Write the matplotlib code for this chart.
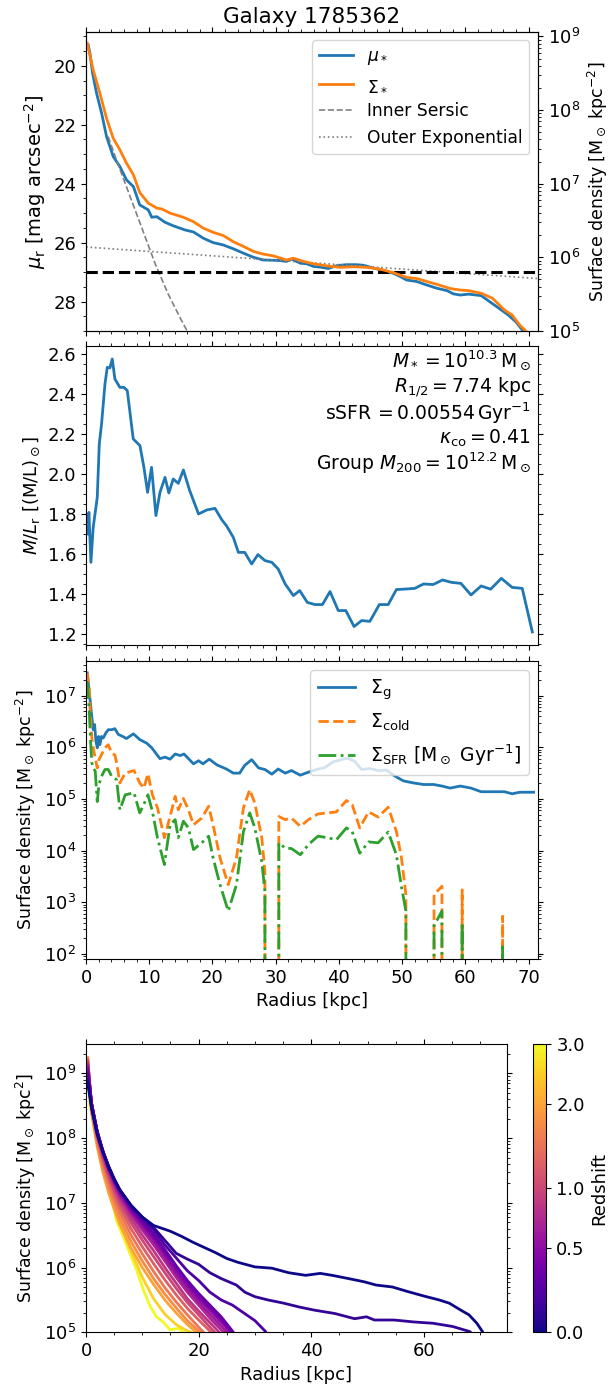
import numpy as np
import matplotlib
matplotlib.use("Agg")
import matplotlib.pyplot as plt
from matplotlib.ticker import AutoMinorLocator
from matplotlib.colors import FuncNorm
from matplotlib.cm import ScalarMappable

plt.rcParams['font.size'] = 13
plt.rcParams['legend.fontsize'] = 12

# ---- panel 1: surface brightness / stellar surface density ----
r_mu = [0.35, 0.62, 1.04, 1.67, 2.46, 3.25, 4.31, 5.36, 6.4, 7.5,
        8.5, 9.85, 10.4, 11.2, 12.5, 13.8, 15.65, 17.0, 18.55, 20.1,
        21.7, 23.3, 24.9, 26.5, 28.0, 29.6, 30.7, 31.7, 32.5, 33.9,
        34.9, 36.0, 37.3, 38.3, 39.7, 41.2, 42.8, 43.9, 45.4, 47.0,
        48.6, 49.7, 50.7, 52.3, 53.9, 55.5, 57.1, 58.1, 59.2, 60.5,
        62.5, 65.0, 66.8, 68.0, 69.5, 70.8]
mu_star = [19.29, 19.57, 20.25, 20.93, 21.6, 22.4, 23.08, 23.42, 23.87, 24.1,
           24.72, 24.89, 25.14, 25.12, 25.31, 25.43, 25.57, 25.64, 25.85, 26.0,
           26.08, 26.21, 26.36, 26.5, 26.59, 26.6, 26.61, 26.64, 26.56, 26.7,
           26.72, 26.81, 26.84, 26.88, 26.78, 26.75, 26.75, 26.77, 26.86, 26.95,
           27.04, 27.15, 27.27, 27.32, 27.44, 27.55, 27.63, 27.74, 27.78, 27.75,
           27.8, 28.18, 28.46, 28.69, 29.1, 29.3]

r_sig = [0.2, 1.14, 2.2, 3.25, 4.31, 5.36, 6.4, 7.5, 8.5, 9.85,
         11.2, 12.0, 13.3, 15.4, 17.0, 18.55, 20.1, 21.7, 23.3, 24.9,
         26.5, 28.0, 29.6, 31.7, 32.8, 34.4, 36.0, 38.1, 40.2, 42.3,
         44.4, 46.5, 48.6, 50.7, 52.3, 53.9, 56.0, 57.6, 59.2, 60.5,
         62.5, 64.3, 66.2, 67.4, 68.6, 70.5]
sig_star_log = [8.908, 8.544, 8.228, 7.888, 7.616, 7.46, 7.28, 7.12, 6.88, 6.736,
                6.668, 6.656, 6.6, 6.544, 6.484, 6.396, 6.34, 6.296, 6.212, 6.148,
                6.08, 6.044, 6.02, 5.964, 5.988, 5.944, 5.912, 5.884, 5.864, 5.872,
                5.864, 5.84, 5.792, 5.728, 5.712, 5.672, 5.62, 5.576, 5.556, 5.548,
                5.512, 5.444, 5.284, 5.216, 5.08, 4.92]

r_sersic = [3.5, 5.0, 7.0, 9.0, 11.0, 13.0, 15.0, 17.0]
mu_sersic = [22.4, 23.3, 24.45, 25.6, 26.75, 27.75, 28.6, 29.4]
r_exp = [0.0, 71.5]
mu_exp = [26.15, 27.22]
mu_limit = 27.0

# ---- panel 2: mass-to-light ratio ----
r_ml = [0.2, 0.46, 0.78, 1.14, 1.78, 2.1, 2.46, 3.0, 3.36, 3.78,
        4.15, 4.57, 5.36, 6.0, 6.53, 7.47, 8.53, 9.16, 9.74, 10.37,
        11.06, 11.7, 12.5, 13.1, 13.8, 14.6, 15.4, 16.4, 17.8, 19.1,
        20.4, 21.5, 22.2, 23.3, 24.1, 25.1, 26.2, 27.2, 28.3, 29.4,
        30.4, 31.5, 32.8, 33.8, 35.0, 36.2, 37.4, 38.6, 39.9, 41.1,
        42.4, 43.6, 44.9, 46.4, 47.8, 49.1, 50.7, 52.0, 53.4, 54.9,
        56.4, 57.8, 59.3, 60.9, 62.5, 64.0, 65.7, 67.4, 69.0, 70.6]
ml = [1.70, 1.808, 1.558, 1.733, 1.883, 2.15, 2.25, 2.45, 2.533, 2.53,
      2.575, 2.475, 2.433, 2.433, 2.417, 2.175, 2.142, 2.033, 1.908, 2.033,
      1.792, 1.908, 1.983, 1.905, 1.975, 1.953, 2.02, 1.917, 1.80, 1.82,
      1.828, 1.77, 1.742, 1.683, 1.608, 1.608, 1.55, 1.597, 1.567, 1.558,
      1.525, 1.45, 1.392, 1.417, 1.358, 1.347, 1.347, 1.412, 1.317, 1.317,
      1.237, 1.267, 1.263, 1.347, 1.347, 1.422, 1.425, 1.428, 1.45, 1.447,
      1.47, 1.458, 1.453, 1.395, 1.44, 1.424, 1.478, 1.433, 1.428, 1.21]

info_lines = [r'$M_* = 10^{10.3}\,\mathrm{M}_\odot$',
              r'$R_{1/2} = 7.74$ kpc',
              r'sSFR$\,= 0.00554\,\mathrm{Gyr}^{-1}$',
              r'$\kappa_\mathrm{co} = 0.41$',
              r'Group $M_{200} = 10^{12.2}\,\mathrm{M}_\odot$']

# ---- panel 3: gas / cold gas / SFR surface densities (log10) ----
r_g = [0.2, 0.5, 0.72, 0.93, 1.14, 1.36, 1.57, 1.78, 2.0, 2.2,
       2.46, 2.73, 3.15, 3.52, 4.05, 4.57, 5.1, 5.8, 6.4, 7.5,
       8.5, 9.6, 10.4, 11.7, 12.5, 13.3, 14.1, 14.9, 15.5, 17.0,
       17.8, 18.5, 19.5, 20.7, 22.2, 23.3, 24.3, 25.1, 26.2, 27.3,
       28.3, 29.4, 30.4, 31.5, 32.5, 33.9, 35.2, 36.5, 37.8, 39.1,
       40.4, 41.3, 42.5, 43.6, 44.9, 46.2, 47.5, 48.9, 50.2, 51.8,
       53.4, 55.0, 56.3, 57.6, 59.2, 60.9, 62.5, 64.3, 66.2, 67.4,
       68.6, 70.8]
sig_g_log = [7.44, 7.08, 6.83, 6.57, 6.34, 6.44, 6.12, 5.99, 6.21, 6.05,
             6.21, 6.18, 6.28, 6.34, 6.34, 6.36, 6.25, 6.21, 6.17, 6.26,
             6.15, 6.08, 5.99, 5.78, 5.81, 5.77, 5.87, 5.84, 5.87, 5.68,
             5.74, 5.68, 5.77, 5.66, 5.58, 5.5, 5.5, 5.65, 5.76, 5.6,
             5.57, 5.48, 5.58, 5.5, 5.55, 5.46, 5.52, 5.57, 5.61, 5.72,
             5.76, 5.79, 5.73, 5.57, 5.59, 5.55, 5.56, 5.44, 5.35, 5.31,
             5.28, 5.28, 5.25, 5.21, 5.25, 5.21, 5.14, 5.14, 5.14, 5.1,
             5.13, 5.13]

# None marks radii with no cold gas / no star formation
r_c = [0.2, 0.5, 0.72, 0.93, 1.14, 1.46, 1.78, 2.05, 2.46, 3.0,
       3.52, 4.05, 4.57, 4.84, 5.36, 6.2, 7.6, 8.5, 9.16, 9.8,
       10.5, 11.3, 12.4, 13.3, 14.1, 14.6, 15.4, 16.2, 17.0, 18.3,
       19.4, 20.1, 21.2, 22.5, 23.8, 24.9, 25.9, 26.7, 27.8, 28.3,
       28.5, 30.3, 30.5, 31.5, 32.5, 33.9, 35.2, 36.7, 38.2, 39.6,
       41.2, 42.1, 43.3, 44.7, 46.2, 47.8, 49.1, 49.9, 50.6, 50.8,
       55.0, 55.05, 56.3, 56.5, 59.4, 59.5, 59.7, 65.8, 65.9, 66.0,
       71.0]
sig_cold_log = [7.44, 7.15, 6.57, 6.18, 5.99, 5.79, 5.6, 5.76, 5.86, 5.99,
                6.05, 5.89, 5.85, 5.7, 5.31, 5.5, 5.55, 5.31, 5.21, 5.49,
                5.08, 4.83, 4.25, 4.66, 5.05, 4.79, 5.01, 4.79, 4.5, 4.63,
                4.86, 4.5, 3.86, 3.34, 3.86, 4.83, 5.18, 4.92, 4.25, 3.6,
                None, None, 4.66, 4.6, 4.63, 4.47, 4.6, 4.71, 4.73, 4.75,
                4.97, 4.89, 4.44, 4.75, 4.65, 4.84, 4.37, 3.86, 3.15, None,
                None, 3.15, 3.31, None, None, 3.24, None, None, 2.73, None,
                None]
sig_sfr_log = [7.28, 6.76, 6.12, 5.7, 5.6, 5.54, 4.95, 5.28, 5.44, 5.57,
               5.57, 5.44, 5.4, 5.37, 4.79, 5.08, 5.12, 4.73, 4.9, 5.08,
               4.76, 4.25, 3.73, 4.5, 4.6, 4.25, 4.57, 4.44, 4.02, 4.15,
               4.28, 3.86, 3.34, 2.83, 3.34, 4.37, 4.73, 4.44, 3.79, 3.21,
               None, None, 4.15, 4.05, 4.04, 3.92, 4.12, 4.28, 4.25, 4.21,
               4.44, 4.37, 3.95, 4.17, 4.15, 4.36, 3.92, 3.3, 2.83, None,
               None, 2.55, 2.83, None, None, 2.6, None, None, 2.14, None,
               None]

# ---- panel 4: stellar surface density profiles through time (log10) ----
redshifts = [0.0, 0.1, 0.2, 0.3, 0.4, 0.5, 0.6, 0.7, 0.85, 1.0, 1.25, 1.5, 1.75, 2.0, 2.5, 3.0]
evo_r = [
    [0.3, 1, 2, 3, 4, 5, 6, 8, 10, 12, 13, 15, 17, 19, 21, 23, 25, 27, 30, 33, 36, 39,
     41.6, 43.7, 46.6, 49.4, 51.5, 54.4, 57.1, 60, 62.7, 64.5, 66.6, 68, 69.4, 70.4, 71],
    [0.3, 1, 2, 3, 4, 5, 6, 8, 10, 12, 14, 16, 18, 20, 22, 24, 26.7, 28.2, 30, 32.3, 35.1,
     37.9, 40.7, 44.2, 47.7, 49.8, 51.2, 54.7, 58.2, 61.6, 65.1, 68.2, 68.6],
    [0.3, 1, 2, 3, 4, 5, 6, 8, 10, 12, 14, 16, 18, 20, 22, 24, 26, 28, 30, 31.9, 32.4],
    [0.3, 1, 2, 3, 4, 5, 6, 8, 10, 12, 14, 16, 18, 20, 22, 24, 26, 27],
    [0.3, 1, 2, 3, 4, 5, 6, 8, 10, 12, 14, 16, 18, 20, 22, 24, 26, 27],
    [0.3, 1, 2, 3, 4, 5, 6, 8, 10, 12, 14, 16, 18, 20, 22, 24, 26, 27],
    [0.3, 1, 2, 3, 4, 5, 6, 8, 10, 12, 14, 16, 18, 20, 22, 24, 26],
    [0.3, 1, 2, 3, 4, 5, 6, 8, 10, 12, 14, 16, 18, 20, 22, 24, 26],
    [0.3, 1, 2, 3, 4, 5, 6, 8, 10, 12, 14, 16, 18, 20, 22, 24],
    [0.3, 1, 2, 3, 4, 5, 6, 8, 10, 12, 14, 16, 18, 20, 22, 24],
    [0.3, 1, 2, 3, 4, 5, 6, 8, 10, 12, 14, 16, 18, 20, 22, 24],
    [0.3, 1, 2, 3, 4, 5, 6, 8, 10, 12, 14, 16, 18, 20, 22],
    [0.3, 1, 2, 3, 4, 5, 6, 8, 10, 12, 14, 16, 18, 20, 22],
    [0.3, 1, 2, 3, 4, 5, 6, 8, 10, 12, 14, 16, 18, 20, 22],
    [0.3, 1, 2, 3, 4, 5, 6, 8, 10, 12, 14, 16, 18, 19.5, 20.5],
    [0.3, 0.7, 1.9, 3.1, 4.3, 5.4, 6.6, 7.8, 9.0, 10.2, 11.4, 12.5, 13.7, 14.9, 16.5, 17.5, 18.5],
]
evo_log = [
    [8.85, 8.45, 8.05, 7.78, 7.55, 7.36, 7.2, 6.96, 6.78, 6.65, 6.62, 6.56, 6.48, 6.39, 6.31, 6.23,
     6.14, 6.08, 6.01, 5.99, 5.92, 5.88, 5.91, 5.88, 5.83, 5.78, 5.73, 5.70, 5.63, 5.56, 5.5, 5.45,
     5.34, 5.27, 5.14, 5.01, 4.85],
    [8.9, 8.47, 8.07, 7.79, 7.56, 7.37, 7.2, 6.96, 6.78, 6.62, 6.42, 6.22, 6.13, 6.05, 5.92, 5.83,
     5.73, 5.62, 5.55, 5.5, 5.45, 5.39, 5.34, 5.29, 5.21, 5.24, 5.19, 5.19, 5.16, 5.14, 5.09, 5.01, 4.95],
    [8.95, 8.5, 8.08, 7.8, 7.57, 7.37, 7.2, 6.95, 6.76, 6.58, 6.35, 6.15, 5.95, 5.8, 5.62, 5.5,
     5.42, 5.3, 5.18, 5.01, 4.9],
    [9.0, 8.52, 8.1, 7.8, 7.56, 7.36, 7.19, 6.93, 6.72, 6.52, 6.28, 6.03, 5.8, 5.6, 5.42, 5.24, 5.02, 4.9],
    [9.05, 8.52, 8.1, 7.8, 7.55, 7.35, 7.17, 6.9, 6.69, 6.48, 6.24, 5.99, 5.76, 5.56, 5.38, 5.2, 4.99, 4.88],
    [9.08, 8.53, 8.1, 7.79, 7.54, 7.33, 7.15, 6.88, 6.66, 6.45, 6.2, 5.95, 5.72, 5.52, 5.34, 5.16, 4.97, 4.86],
    [9.1, 8.53, 8.09, 7.78, 7.52, 7.31, 7.13, 6.85, 6.62, 6.4, 6.15, 5.9, 5.67, 5.47, 5.28, 5.1, 4.92],
    [9.12, 8.53, 8.08, 7.76, 7.5, 7.29, 7.1, 6.82, 6.58, 6.35, 6.1, 5.85, 5.62, 5.42, 5.22, 5.04, 4.88],
    [9.15, 8.52, 8.06, 7.74, 7.47, 7.25, 7.06, 6.76, 6.5, 6.26, 6.0, 5.76, 5.52, 5.33, 5.15, 4.97],
    [9.18, 8.5, 8.03, 7.7, 7.43, 7.2, 7.0, 6.69, 6.42, 6.17, 5.92, 5.68, 5.46, 5.27, 5.08, 4.9],
    [9.2, 8.48, 8.0, 7.66, 7.38, 7.14, 6.93, 6.6, 6.32, 6.06, 5.81, 5.58, 5.37, 5.19, 5.02, 4.85],
    [9.22, 8.45, 7.96, 7.6, 7.31, 7.06, 6.85, 6.5, 6.21, 5.94, 5.69, 5.47, 5.27, 5.08, 4.9],
    [9.23, 8.42, 7.91, 7.54, 7.24, 6.98, 6.76, 6.4, 6.1, 5.83, 5.59, 5.38, 5.18, 5.02, 4.85],
    [9.24, 8.38, 7.86, 7.47, 7.16, 6.9, 6.67, 6.3, 6.0, 5.74, 5.5, 5.3, 5.12, 4.97, 4.82],
    [9.24, 8.4, 8.0, 7.62, 7.3, 6.95, 6.68, 6.25, 5.85, 5.52, 5.28, 5.12, 5.02, 4.97, 4.88],
    [9.2, 8.49, 8.07, 7.6, 7.2, 6.73, 6.48, 6.22, 5.96, 5.65, 5.4, 5.24, 5.16, 5.04, 5.06, 4.98, 4.9],
]


def unlog(vals):
    return np.array([0.0 if v is None else 10.0 ** v for v in vals])


fig = plt.figure(figsize=(6.13, 13.9), dpi=100)
ax1 = fig.add_axes([0.1403, 0.7619, 0.7374, 0.2153])
ax2 = fig.add_axes([0.1403, 0.5360, 0.7374, 0.2151], sharex=ax1)
ax3 = fig.add_axes([0.1403, 0.3101, 0.7374, 0.2146], sharex=ax1)
ax4 = fig.add_axes([0.1403, 0.0415, 0.6863, 0.2072])
cax = fig.add_axes([0.8695, 0.0415, 0.022, 0.2072])

# panel 1
l_mu, = ax1.plot(r_mu, mu_star, color='C0', lw=2, label=r'$\mu_*$')
l_ser, = ax1.plot(r_sersic, mu_sersic, '--', color='grey', lw=1.2, label='Inner Sersic')
l_exp, = ax1.plot(r_exp, mu_exp, ':', color='grey', lw=1.2, label='Outer Exponential')
ax1.axhline(mu_limit, color='k', ls='--', lw=2.2)
ax1.set_ylim(29, 18.84)
ax1.set_ylabel(r'$\mu_\mathrm{r}$ [mag arcsec$^{-2}$]', fontsize=14)
ax1.set_title('Galaxy 1785362', fontsize=15.5)
ax1.yaxis.set_minor_locator(AutoMinorLocator())
ax1.tick_params(which='both', direction='out', top=True, labelbottom=False)

ax1b = ax1.twinx()
l_sig, = ax1b.semilogy(r_sig, unlog(sig_star_log), color='C1', lw=2, label=r'$\Sigma_*$')
ax1b.set_ylim(1e5, 10 ** (5 + (29 - 18.84) / 2.5))
ax1b.set_ylabel(r'Surface density [M$_\odot$ kpc$^{-2}$]', fontsize=12.5)
ax1b.tick_params(which='both', direction='out')
ax1b.legend([l_mu, l_sig, l_ser, l_exp], [h.get_label() for h in [l_mu, l_sig, l_ser, l_exp]],
            loc='upper right', fontsize=12.3)

# panel 2
ax2.plot(r_ml, ml, color='C0', lw=2)
ax2.set_ylim(1.145, 2.64)
ax2.set_ylabel(r'$M/L_\mathrm{r}$ [(M/L)$_\odot$]')
ax2.yaxis.set_minor_locator(AutoMinorLocator())
ax2.tick_params(which='both', direction='out', top=True, right=True, labelbottom=False)
ax2.text(0.985, 0.99, '\n'.join(info_lines), transform=ax2.transAxes, fontsize=13.5,
         ha='right', va='top', multialignment='right', linespacing=1.1)

# panel 3
ax3.semilogy(r_g, unlog(sig_g_log), color='C0', lw=2, label=r'$\Sigma_\mathrm{g}$')
ax3.semilogy(r_c, unlog(sig_cold_log), '--', color='C1', lw=2, label=r'$\Sigma_\mathrm{cold}$')
ax3.semilogy(r_c, unlog(sig_sfr_log), '-.', color='C2', lw=2,
             label=r'$\Sigma_\mathrm{SFR}$ [M$_\odot$ Gyr$^{-1}$]')
ax3.set_ylim(80, 4.75e7)
ax3.set_xlim(0, 71.5)
ax3.xaxis.set_minor_locator(AutoMinorLocator())
ax3.set_xlabel('Radius [kpc]')
ax3.set_ylabel(r'Surface density [M$_\odot$ kpc$^{-2}$]', fontsize=12.5)
ax3.tick_params(which='both', direction='out', top=True, right=True)
ax3.legend(loc='upper right', fontsize=13.5)

# panel 4
cmap = plt.get_cmap('plasma')
norm = FuncNorm((lambda z: np.log10(1 + z), lambda x: 10 ** x - 1), vmin=0, vmax=3)
for z, rr, lg in reversed(list(zip(redshifts, evo_r, evo_log))):
    ax4.semilogy(rr, unlog(lg), color=cmap(norm(z)), lw=2)
ax4.set_xlim(0, 74.7)
ax4.set_ylim(1e5, 2.8e9)
ax4.xaxis.set_minor_locator(AutoMinorLocator())
ax4.set_xlabel('Radius [kpc]')
ax4.set_ylabel(r'Surface density [M$_\odot$ kpc$^2$]', fontsize=12.5)
ax4.tick_params(which='both', direction='out', top=True, right=True)

sm = ScalarMappable(norm=norm, cmap=cmap)
cb = fig.colorbar(sm, cax=cax, ticks=[0, 0.5, 1, 2, 3])
cb.ax.set_yticklabels(['0.0', '0.5', '1.0', '2.0', '3.0'])
cb.ax.minorticks_off()
cb.set_label('Redshift')

fig.savefig('out.png', dpi=100)
